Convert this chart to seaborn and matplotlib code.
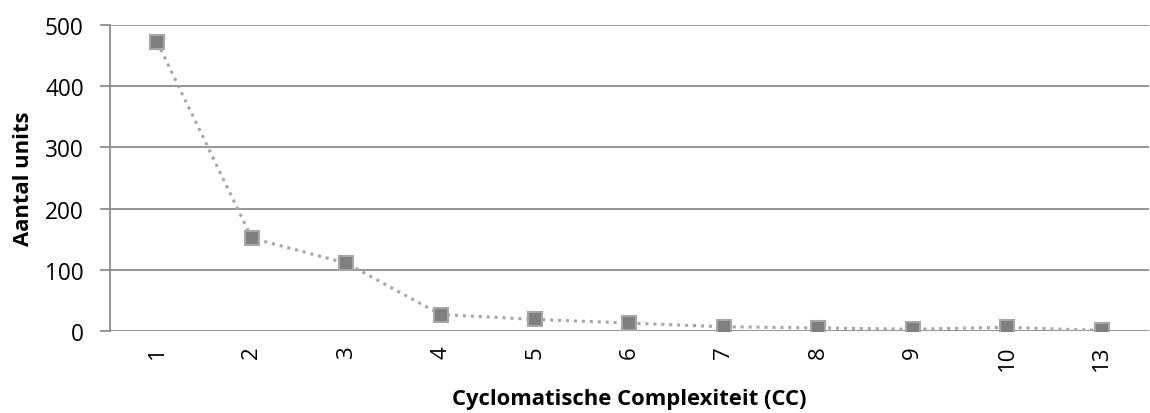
import matplotlib
matplotlib.use("Agg")
import matplotlib.pyplot as plt
import seaborn as sns
import pandas as pd

# Cyclomatic complexity classes and number of units in each
cc_labels = ["1", "2", "3", "4", "5", "6", "7", "8", "9", "10", "13"]
unit_counts = [472, 152, 111, 27, 19, 13, 7, 5, 3, 6, 1]
y_ticks = [0, 100, 200, 300, 400, 500]

sns.set_theme(style="white")
plt.rcParams["font.family"] = ["Open Sans", "DejaVu Sans"]

df = pd.DataFrame({"pos": range(len(cc_labels)), "cc": cc_labels, "units": unit_counts})

fig = plt.figure(figsize=(11.5, 4.14), dpi=100)
ax = fig.add_axes([0.0957, 0.198, 0.9033, 0.739])

grid_color = "#8c8c8c"
for yv in y_ticks:
    ax.axhline(yv, color=grid_color, lw=1.3, zorder=0)

sns.lineplot(data=df, x="pos", y="units", ax=ax, color="#a6a6a6", lw=2.2,
             linestyle=(0, (1, 1.6)), marker="s", markersize=10,
             markerfacecolor="#7f7f7f", markeredgecolor="#a6a6a6",
             markeredgewidth=1.5, zorder=3)

ax.set_xlim(-0.5, len(cc_labels) - 0.5)
ax.set_ylim(0, 500)
ax.set_xticks(df["pos"])
ax.set_xticklabels(cc_labels, rotation=90)
ax.set_yticks(y_ticks)
ax.tick_params(axis="y", labelsize=16.3, length=7, width=1.3, color=grid_color,
               left=True, pad=12, labelcolor="black")
ax.tick_params(axis="x", labelsize=16, length=0, pad=10, labelcolor="black")

for side in ["top", "right", "bottom"]:
    ax.spines[side].set_visible(False)
ax.spines["left"].set_color(grid_color)
ax.spines["left"].set_linewidth(1.3)

ax.set_xlabel("Cyclomatische Complexiteit (CC)", fontsize=15.8, fontweight="bold",
              labelpad=13, color="black")
ax.set_ylabel("Aantal units", fontsize=15.8, fontweight="bold", labelpad=8,
              color="black")

fig.savefig("out.png", dpi=100)
